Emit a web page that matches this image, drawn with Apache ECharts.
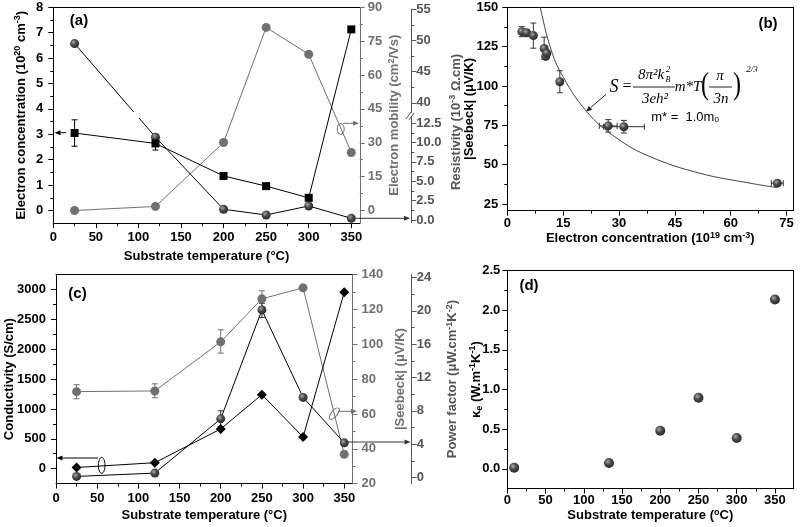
<!DOCTYPE html>
<html>
<head>
<meta charset="utf-8">
<script src="https://cdn.jsdelivr.net/npm/echarts@6/dist/echarts.min.js"></script>
<style>
  html, body { margin: 0; padding: 0; background: #fff; }
  #main { width: 800px; height: 527px; }
</style>
</head>
<body>
<div id="main"></div>
<script>
// ---- panel (a): concentration / mobility / resistivity vs substrate temperature
const tempA = [25, 120, 200, 250, 300, 350];
const concA = [3.05, 2.64, 1.36, 0.96, 0.50, 7.13];
const concErrA = [[25, 2.53, 3.57], [120, 2.38, 2.90]];
const mobilityA = [0, 1.8, 30.1, 81.1, 69.2, 25.7];
const resistA = [49.5, 10.7, 1.38, 0.65, 1.81, 0.22];

// ---- panel (b): |Seebeck| vs electron concentration
const nB = [3.9, 5.2, 7.0, 9.9, 10.3, 10.6, 14.1, 27.1, 31.3, 72.5];
const seebeckB = [134.5, 133.8, 132.0, 123.8, 118.8, 120.8, 102.7, 74.6, 74.1, 38.2];
const seebeckErrB = [[3.9, 131.3, 137.7], [7.0, 124.0, 140.0], [9.9, 117.0, 131.0],
                     [14.1, 95.7, 109.7], [27.1, 70.6, 78.6], [31.3, 70.1, 78.1]];
const nErrB = [[74.6, 24.7, 29.5], [74.1, 25.8, 36.8], [38.2, 70.9, 74.1]];
const fitN = [8.6, 9.2, 11.5, 14.2, 21.3, 29.4, 38.3, 51.7, 65.2, 72.3];
const fitS = [154.6, 146.2, 125.0, 109.1, 83.7, 66.8, 55.1, 44.5, 38.2, 35.4];

// ---- panel (c): conductivity / Seebeck / power factor
const tempC = [25, 120, 200, 250, 300, 350];
const condC = [20, 100, 665, 1240, 530, 2955];
const seebeckC = [72.8, 73.2, 101.4, 126.1, 132.4, 36.8];
const seebeckErrC = [[25, 68.7, 76.8], [120, 69.3, 77.3], [200, 94.9, 108.3], [250, 121.5, 130.7]];
const pfC = [0.12, 0.52, 7.03, 20.1, 9.6, 4.15];
const pfErrC = [[200, 6.1, 8.0], [250, 19.2, 20.9]];

// ---- panel (d): electronic thermal conductivity
const tempD = [9, 133, 200, 250, 300, 350];
const kappaD = [0.013, 0.072, 0.48, 0.895, 0.388, 2.135];

// tick labels
const tTicks = [0, 50, 100, 150, 200, 250, 300, 350];
const concTicks = [0, 1, 2, 3, 4, 5, 6, 7, 8];
const mobTicks = [0, 15, 30, 45, 60, 75, 90];
const resUpTicks = [40, 45, 50, 55];
const resLowTicks = [0, 2.5, 5, 7.5, 10, 12.5];
const nTicks = [0, 15, 30, 45, 60, 75];
const sbTicks = [25, 50, 75, 100, 125, 150];
const condTicks = [0, 500, 1000, 1500, 2000, 2500, 3000];
const sbcTicks = [20, 40, 60, 80, 100, 120, 140];
const pfTicks = [0, 4, 8, 12, 16, 20, 24];
const kTicks = [0, 0.5, 1, 1.5, 2, 2.5];

const FONT = '"Liberation Sans", Arial, sans-serif';
const SERIF = '"Liberation Serif", "Times New Roman", serif';
const BLACK = '#000', GRAY = '#707070', DGRAY = '#555';

const sphere = {
  type: 'radial', x: 0.38, y: 0.35, r: 0.7,
  colorStops: [{ offset: 0, color: '#a8a8a8' }, { offset: 0.45, color: '#4a4a4a' }, { offset: 1, color: '#262626' }]
};

function minorOf(major) {
  const out = [];
  for (let i = 0; i < major.length - 1; i++) out.push((major[i] + major[i + 1]) / 2);
  return out;
}

function nameStyle(color) {
  const base = { fontFamily: FONT, fontWeight: 'bold', color: color };
  return Object.assign({}, base, {
    fontSize: 13, lineHeight: 16,
    rich: {
      sup: Object.assign({}, base, { fontSize: 9, lineHeight: 10, verticalAlign: 'top' }),
      sub: Object.assign({}, base, { fontSize: 9, lineHeight: 10, verticalAlign: 'bottom' })
    }
  });
}

const grids = [
  { left: 53.3, top: 7.3, width: 306.5, height: 215.9 },   // 0 (a)
  { left: 53.3, top: 9.3, width: 306.5, height: 102.8 },   // 1 (a) resistivity upper part
  { left: 53.3, top: 117, width: 306.5, height: 105.7 },   // 2 (a) resistivity lower part
  { left: 507.3, top: 7.3, width: 286, height: 203.4 },    // 3 (b)
  { left: 55.6, top: 274.6, width: 296.9, height: 209 },   // 4 (c)
  { left: 507.3, top: 270.6, width: 286, height: 218 }     // 5 (d)
];

const xAxes = [], yAxes = [];
function axis(list, o) {
  const color = o.color || BLACK;
  const common = {
    type: 'value', gridIndex: o.grid, min: o.min, max: o.max,
    position: o.pos, offset: o.offset || 0, splitLine: { show: false }
  };
  list.push(Object.assign({}, common, {
    show: o.show !== false,
    axisLine: { show: o.line !== false, onZero: false, lineStyle: { color: color, width: 1 } },
    axisTick: { show: !!o.major, inside: false, length: 5, customValues: o.major, lineStyle: { color: color, width: 1 } },
    axisLabel: {
      show: !!o.major, customValues: o.major, margin: o.margin || 8, color: color,
      fontFamily: FONT, fontSize: 13, fontWeight: 'bold', formatter: o.fmt || (v => String(v))
    },
    name: o.name, nameLocation: 'middle', nameGap: o.gap, nameRotate: o.rot, nameMoveOverlap: false,
    nameTextStyle: nameStyle(color)
  }));
  const idx = list.length - 1;
  if (o.major) {
    list.push(Object.assign({}, common, {
      axisLine: { show: false, onZero: false },
      axisLabel: { show: false },
      axisTick: { show: true, inside: false, length: 3, customValues: minorOf(o.major), lineStyle: { color: color, width: 1 } }
    }));
  }
  return idx;
}

const fmt1 = v => v.toFixed(1);
const TT = 'Substrate temperature (°C)';

// x axes
const xa = axis(xAxes, { grid: 0, min: 0, max: 360, pos: 'bottom', major: tTicks, margin: 8, name: TT, gap: 25 });
axis(xAxes, { grid: 0, min: 0, max: 360, pos: 'top' });
const xr1 = axis(xAxes, { grid: 1, min: 0, max: 360, pos: 'bottom', show: false });
const xr2 = axis(xAxes, { grid: 2, min: 0, max: 360, pos: 'bottom', show: false });
const xb = axis(xAxes, { grid: 3, min: 0, max: 76.8, pos: 'bottom', major: nTicks, margin: 6,
  name: 'Electron concentration (10{sup|19} cm{sup|-3})', gap: 20 });
axis(xAxes, { grid: 3, min: 0, max: 76.8, pos: 'top' });
const xc = axis(xAxes, { grid: 4, min: 0, max: 360, pos: 'bottom', major: tTicks, margin: 8, name: TT, gap: 24 });
axis(xAxes, { grid: 4, min: 0, max: 360, pos: 'top' });
const xd = axis(xAxes, { grid: 5, min: 0, max: 374, pos: 'bottom', major: tTicks, margin: 5,
  name: 'Substrate temperature ({sup|o}C)', gap: 19 });
axis(xAxes, { grid: 5, min: 0, max: 374, pos: 'top' });

// y axes
const yConc = axis(yAxes, { grid: 0, min: -0.5, max: 8, pos: 'left', major: concTicks, margin: 10,
  name: 'Electron concentration (10{sup|20} cm{sup|-3})', gap: 24, rot: 90 });
const yMob = axis(yAxes, { grid: 0, min: -5.625, max: 90, pos: 'right', major: mobTicks, margin: 8, color: GRAY,
  name: 'Electron mobility (cm{sup|2}/Vs)', gap: 27, rot: 90 });
const yResUp = axis(yAxes, { grid: 1, min: 38.5, max: 55, pos: 'right', offset: 51.5, major: resUpTicks, margin: 5, color: DGRAY });
const yResLow = axis(yAxes, { grid: 2, min: -0.35, max: 13.3, pos: 'right', offset: 51.5, major: resLowTicks, margin: 5, color: DGRAY, fmt: fmt1 });
const yb = axis(yAxes, { grid: 3, min: 20.7, max: 150, pos: 'left', major: sbTicks, margin: 9,
  name: '|Seebeck| (μV/K)', gap: 30, rot: 90 });
axis(yAxes, { grid: 3, min: 20.7, max: 150, pos: 'right' });
const yCond = axis(yAxes, { grid: 4, min: -250, max: 3250, pos: 'left', major: condTicks, margin: 10,
  name: 'Conductivity (S/cm)', gap: 39, rot: 90 });
const ySbc = axis(yAxes, { grid: 4, min: 20, max: 140, pos: 'right', major: sbcTicks, margin: 9, color: GRAY,
  name: '|Seebeck| (μV/K)', gap: 40, rot: 90 });
const yPf = axis(yAxes, { grid: 4, min: -0.74, max: 24.34, pos: 'right', offset: 59.2, major: pfTicks, margin: 5, color: DGRAY,
  name: 'Power factor (μW.cm{sup|-1}K{sup|-2})', gap: 33, rot: 90 });
const yd = axis(yAxes, { grid: 5, min: -0.25, max: 2.5, pos: 'left', major: kTicks, margin: 7, fmt: fmt1,
  name: 'κ{sub|e} (W.m{sup|-1}K{sup|-1})', gap: 23, rot: 90 });
axis(yAxes, { grid: 5, min: -0.25, max: 2.5, pos: 'right' });

const zip = (xs, ys) => xs.map((x, i) => [x, ys[i]]);

function line(xi, yi, data, o) {
  return {
    type: 'line', xAxisIndex: xi, yAxisIndex: yi, data: data,
    symbol: o.symbol || 'circle', symbolSize: o.size || 9, showSymbol: true,
    lineStyle: { color: o.lineColor || BLACK, width: o.noLine ? 0 : 1 },
    itemStyle: { color: o.color || BLACK },
    smooth: o.smooth || false, z: o.z || 3, clip: o.clip !== false, silent: true
  };
}

function errBars(xi, yi, data, color, horizontal) {
  return {
    type: 'custom', xAxisIndex: xi, yAxisIndex: yi, data: data, z: 2, silent: true,
    encode: horizontal ? { y: 0, x: [1, 2] } : { x: 0, y: [1, 2] },
    renderItem: function (params, api) {
      const c = api.value(0), lo = api.value(1), hi = api.value(2);
      const a = horizontal ? api.coord([lo, c]) : api.coord([c, lo]);
      const b = horizontal ? api.coord([hi, c]) : api.coord([c, hi]);
      const w = 3, st = { stroke: color, lineWidth: 1 };
      const cap = p => horizontal
        ? { type: 'line', shape: { x1: p[0], y1: p[1] - w, x2: p[0], y2: p[1] + w }, style: st }
        : { type: 'line', shape: { x1: p[0] - w, y1: p[1], x2: p[0] + w, y2: p[1] }, style: st };
      return { type: 'group', children: [
        { type: 'line', shape: { x1: a[0], y1: a[1], x2: b[0], y2: b[1] }, style: st }, cap(a), cap(b)
      ] };
    }
  };
}

// resistivity is split over the broken axis
const RES_SPLIT = 25;
const resUp = zip(tempA, resistA).filter(p => p[1] > RES_SPLIT);
const resLow = zip(tempA, resistA).filter(p => p[1] <= RES_SPLIT);

const series = [
  line(xa, yMob, zip(tempA, mobilityA), { color: GRAY, lineColor: GRAY, size: 9 }),
  line(xr2, yResLow, resLow, { color: sphere, size: 9, z: 4 }),
  line(xr1, yResUp, resUp, { color: sphere, size: 9, z: 4 }),
  line(xa, yConc, zip(tempA, concA), { symbol: 'rect', size: 8, z: 5 }),
  errBars(xa, yConc, concErrA, BLACK),

  line(xb, yb, zip(fitN, fitS), { smooth: 0.4, size: 0, symbol: 'none', lineColor: '#444', z: 2 }),
  line(xb, yb, zip(nB, seebeckB), { color: sphere, size: 9, noLine: true, z: 4 }),
  errBars(xb, yb, seebeckErrB, '#333'),
  errBars(xb, yb, nErrB, '#333', true),

  line(xc, ySbc, zip(tempC, seebeckC), { color: GRAY, lineColor: GRAY, size: 9 }),
  errBars(xc, ySbc, seebeckErrC, GRAY),
  line(xc, yPf, zip(tempC, pfC), { color: sphere, size: 9, z: 4 }),
  errBars(xc, yPf, pfErrC, '#333'),
  line(xc, yCond, zip(tempC, condC), { symbol: 'diamond', size: 10, z: 5 }),

  line(xd, yd, zip(tempD, kappaD), { color: sphere, size: 10, noLine: true, z: 4 })
];

const chart = echarts.init(document.getElementById('main'), null, { renderer: 'canvas' });
chart.setOption({
  animation: false,
  backgroundColor: '#fff',
  grid: grids,
  xAxis: xAxes,
  yAxis: yAxes,
  series: series
});

// ---- annotations
function arrow(x1, y1, x2, y2, color) {
  const a = Math.atan2(y2 - y1, x2 - x1), L = 6, W = 2.5;
  const bx = x2 - L * Math.cos(a), by = y2 - L * Math.sin(a);
  return [
    { type: 'line', shape: { x1: x1, y1: y1, x2: bx, y2: by }, style: { stroke: color, lineWidth: 1 }, z: 10 },
    { type: 'polygon', z: 10, shape: { points: [[x2, y2], [bx - W * Math.sin(a), by + W * Math.cos(a)], [bx + W * Math.sin(a), by - W * Math.cos(a)]] }, style: { fill: color } }
  ];
}
function ellipse(cx, cy, rx, ry, color, rot) {
  return { type: 'ellipse', x: cx, y: cy, rotation: rot || 0, shape: { cx: 0, cy: 0, rx: rx, ry: ry }, style: { fill: 'none', stroke: color, lineWidth: 1 }, z: 10 };
}
function text(x, y, str, font, color, extra) {
  return Object.assign({ type: 'text', x: x, y: y, z: 10, style: Object.assign({
    text: str, font: font, fill: color || BLACK, align: 'center', verticalAlign: 'middle'
  }, extra || {}) });
}
function seg(x1, y1, x2, y2, color) {
  return { type: 'line', z: 10, shape: { x1: x1, y1: y1, x2: x2, y2: y2 }, style: { stroke: color || BLACK, lineWidth: 1 } };
}

const g = [];
// resistivity line crossing the axis break, through the library's scales
const all = zip(tempA, resistA);
for (let i = 0; i < all.length - 1; i++) {
  const a = all[i], b = all[i + 1];
  const upA = a[1] > RES_SPLIT, upB = b[1] > RES_SPLIT;
  if (upA === upB) continue;
  const pa = chart.convertToPixel({ xAxisIndex: upA ? xr1 : xr2, yAxisIndex: upA ? yResUp : yResLow }, a);
  const pb = chart.convertToPixel({ xAxisIndex: upB ? xr1 : xr2, yAxisIndex: upB ? yResUp : yResLow }, b);
  const gapTop = chart.convertToPixel({ yAxisIndex: yResUp }, 38.5);
  const gapBot = chart.convertToPixel({ yAxisIndex: yResLow }, 13.3);
  const at = y => pa[0] + (pb[0] - pa[0]) * (y - pa[1]) / (pb[1] - pa[1]);
  g.push({ type: 'line', z: 2, shape: { x1: pa[0], y1: pa[1], x2: at(gapTop), y2: gapTop }, style: { stroke: BLACK, lineWidth: 1 } });
  g.push({ type: 'line', z: 2, shape: { x1: at(gapBot + 1), y1: gapBot + 1, x2: pb[0], y2: pb[1] }, style: { stroke: BLACK, lineWidth: 1 } });
}
// axis break marks
g.push(seg(406, 119, 411, 112, DGRAY), seg(409, 120, 414, 113, DGRAY));

const richSup = c => ({
  sup: { fontFamily: FONT, fontWeight: 'bold', fontSize: 9, lineHeight: 10, verticalAlign: 'top', fill: c },
  sub: { fontFamily: FONT, fontWeight: 'bold', fontSize: 9, lineHeight: 10, verticalAlign: 'bottom', fill: c }
});
g.push({ type: 'text', x: 456.5, y: 122, rotation: Math.PI / 2, z: 10, style: {
  text: 'Resistivity (10{sup|-3} Ω.cm)', font: 'bold 13px ' + FONT, fill: DGRAY,
  align: 'center', verticalAlign: 'middle', lineHeight: 16, rich: richSup(DGRAY) } });

// panel labels
g.push(text(79, 21, '(a)', 'bold 15px ' + FONT));
g.push(text(768, 24, '(b)', 'bold 15px ' + FONT));
g.push(text(77.5, 294, '(c)', 'bold 15px ' + FONT));
g.push(text(529, 286, '(d)', 'bold 15px ' + FONT));

// (a) pointers
g.push(...arrow(66, 132.7, 54.5, 132.7, BLACK));
g.push(ellipse(340.7, 129, 3.5, 5.5, GRAY));
g.push(...arrow(343, 123.3, 359, 123.3, GRAY));
g.push(...arrow(356, 218.3, 410, 218.3, '#333'));

// (c) pointers
g.push(ellipse(101.7, 465.3, 3.3, 8, BLACK));
g.push(...arrow(98, 458, 56.5, 458, BLACK));
g.push(ellipse(334.3, 413.7, 3, 7, GRAY, -0.7));
g.push(...arrow(338, 411.3, 357, 411.3, GRAY));
g.push(...arrow(348, 442, 410.5, 442, '#333'));

// (b) formula
const serif = (size, italic) => (italic ? 'italic ' : '') + size + 'px ' + SERIF;
g.push(text(614, 87, 'S', serif(18, true)));
g.push(text(627, 87, '=', serif(16)));
g.push(text(651, 75, '8π²k', serif(15, true)));
g.push(text(668, 70, '2', serif(9, true)));
g.push(text(668, 80, 'B', serif(8, true)));
g.push(seg(633, 87, 675, 87, '#222'));
g.push(text(655, 99, '3eh²', serif(15, true)));
g.push(text(688, 87, 'm*T', serif(15, true)));
g.push(Object.assign(text(705, 86, '(', serif(32)), { scaleX: 0.75 }));
g.push(text(720, 76, 'π', serif(15, true)));
g.push(seg(709, 87, 732, 87, '#222'));
g.push(text(721, 99, '3n', serif(15, true)));
g.push(Object.assign(text(737, 86, ')', serif(32)), { scaleX: 0.75 }));
g.push(text(752, 70, '2/3', serif(9, true)));
g.push({ type: 'text', x: 685, y: 117, z: 10, style: {
  text: 'm* =  1.0m{s|0}', font: '13px ' + FONT, fill: BLACK, align: 'center', verticalAlign: 'middle',
  rich: { s: { fontFamily: FONT, fontSize: 8, verticalAlign: 'bottom', fill: BLACK } } } });
g.push(...arrow(606, 94.3, 586, 111.7, '#222'));

chart.setOption({ graphic: g });
</script>
</body>
</html>
